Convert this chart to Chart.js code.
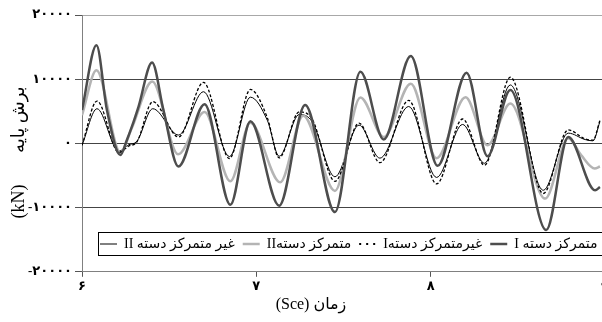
<!DOCTYPE html>
<html lang="fa">
<head>
<meta charset="UTF-8">
<title>برش پایه</title>
<script src="https://cdn.jsdelivr.net/npm/chart.js"></script>
<style>
  body { margin: 0; background: #fff; }
  #wrap { width: 602px; height: 322px; }
</style>
</head>
<body>
<div id="wrap"><canvas id="myChart"></canvas></div>
<script>
// series names as in the legend
const names = ['متمرکز دسته I', 'غیرمتمرکز دستهI', 'متمرکز دستهII', 'غیر متمرکز دسته II'];
const xTitle = '(Sce) زمان';
const yTitle = '(kN)' + '\u00a0'.repeat(6) + ' برش پایه' + '\u00a0'.repeat(4);
const xTicks = [6, 7, 8, 9];
const yTicks = [-20000, -10000, 0, 10000, 20000];

// متمرکز دسته I (dark thick)
const timeD = [6.000, 6.083, 6.143, 6.220, 6.257, 6.286, 6.324, 6.402, 6.467, 6.553, 6.703, 6.851, 6.966,
  7.131, 7.280, 7.451, 7.597, 7.731, 7.886, 8.040, 8.206, 8.326, 8.457, 8.663, 8.789, 8.943, 8.971];
const shearD = [5200, 15300, 5200, -1800, 500, 2600, 5700, 12600, 5200, -3600, 6100, -9550, 3450,
  -9700, 6000, -10700, 11150, 600, 13600, -3500, 11000, -2000, 8300, -13500, 1000, -7300, -6800];

// غیرمتمرکز دستهI (dotted)
const timeP = [6.000, 6.086, 6.211, 6.269, 6.314, 6.406, 6.554, 6.697, 6.846, 6.966, 7.063, 7.131, 7.246,
  7.320, 7.451, 7.589, 7.709, 7.874, 8.034, 8.183, 8.309, 8.457, 8.646, 8.789, 8.886, 8.931, 8.971];
const shearP = [-300, 6600, -1400, -400, 200, 6500, 1000, 9500, -2350, 8400, 4000, -2250, 4900,
  3800, -5900, 3150, -3000, 6700, -6300, 3800, -3400, 10300, -7800, 2100, 700, 500, 3600];

// متمرکز دستهII (light grey)
const timeL = [6.000, 6.083, 6.220, 6.286, 6.403, 6.551, 6.703, 6.851, 6.966, 7.137, 7.269, 7.451,
  7.597, 7.731, 7.886, 8.034, 8.200, 8.326, 8.457, 8.657, 8.789, 8.863, 8.941, 8.971];
const shearL = [4400, 11400, -1400, 2400, 9650, -1700, 4900, -5900, 3200, -6050, 4300, -7400,
  7150, 1000, 9300, -2300, 7200, -300, 6200, -8600, 800, -1830, -3900, -3600];

// غیر متمرکز دسته II (thin black)
const timeT = [6.000, 6.086, 6.211, 6.269, 6.314, 6.406, 6.554, 6.697, 6.846, 6.966, 7.063, 7.131, 7.246,
  7.320, 7.451, 7.589, 7.709, 7.874, 8.034, 8.183, 8.309, 8.457, 8.646, 8.789, 8.886, 8.931, 8.971];
const shearT = [-300, 5400, -1200, -200, 300, 5400, 1300, 8050, -2050, 7200, 3600, -2000, 4500,
  3400, -5200, 2850, -2300, 5750, -5300, 2950, -3100, 9100, -7300, 1600, 600, 400, 3400];

const faDigits = '۰۱۲۳۴۵۶۷۸۹';
function toFa(v) {
  return String(v).replace(/\d/g, d => faDigits[d]);
}
function pts(ts, vs) {
  return ts.map((t, i) => ({ x: t, y: vs[i] }));
}

const serif = "'Times New Roman', 'Liberation Serif', 'DejaVu Sans', serif";

// the original figure is cropped: the x axis runs a few px past the right edge
const PLOT_RIGHT = 605;

// legend sits inside the plot, in its own framed box
const legendBox = {
  id: 'legendBox',
  beforeLayout(chart) {
    const i = chart.boxes.indexOf(chart.legend);
    if (i >= 0) chart.boxes.splice(i, 1);
  },
  afterLayout(chart) {
    const xs = chart.scales.x;
    xs.right = PLOT_RIGHT;
    xs.width = xs.right - xs.left;
    xs.configure();
    chart.chartArea.right = PLOT_RIGHT;
    chart.chartArea.width = PLOT_RIGHT - chart.chartArea.left;

    const lg = chart.legend;
    lg.update(900, 40, { left: 0, top: 0, right: 0, bottom: 0 });
    lg.left = 92;
    lg.right = lg.left + lg.width;
    lg.top = 229;
    lg.bottom = lg.top + lg.height;
  },
  afterDraw(chart) {
    const ctx = chart.ctx;
    ctx.save();
    ctx.strokeStyle = '#000';
    ctx.lineWidth = 1;
    ctx.strokeRect(98.5, 232.5, 520, 23);
    ctx.restore();
    chart.legend.draw();
  }
};

new Chart(document.getElementById('myChart'), {
  type: 'line',
  data: {
    datasets: [
      { label: names[0], data: pts(timeD, shearD), borderColor: '#4d4d4d', borderWidth: 2.5 },
      { label: names[1], data: pts(timeP, shearP), borderColor: '#000', borderWidth: 1.3, borderDash: [3, 2] },
      { label: names[2], data: pts(timeL, shearL), borderColor: '#b4b4b4', borderWidth: 2.5 },
      { label: names[3], data: pts(timeT, shearT), borderColor: '#000', borderWidth: 1 }
    ]
  },
  options: {
    responsive: true,
    maintainAspectRatio: false,
    animation: false,
    elements: {
      point: { radius: 0 },
      line: { cubicInterpolationMode: 'monotone', fill: false }
    },
    layout: { autoPadding: false, padding: { left: 20, right: 0, top: 15, bottom: 0 } },
    scales: {
      x: {
        type: 'linear',
        min: 6, max: 9,
        afterBuildTicks: s => { s.ticks = xTicks.map(v => ({ value: v })); },
        afterFit: s => { s.height = 20; },
        border: { color: '#808080' },
        grid: { drawOnChartArea: false, tickLength: 5, tickColor: '#555' },
        ticks: {
          callback: v => toFa(v),
          color: '#000', padding: 2, maxRotation: 0,
          font: { family: serif, size: 13, weight: 'bold' }
        }
      },
      y: {
        min: -20000, max: 20000,
        afterBuildTicks: s => { s.ticks = yTicks.map(v => ({ value: v })); },
        afterFit: s => { s.width = 62; },
        border: { color: '#808080' },
        grid: {
          color: c => c.tick.value === 20000 ? '#a8a8a8' : (c.tick.value === -20000 ? '#808080' : '#444'),
          tickLength: 7, tickColor: '#555'
        },
        ticks: {
          callback: v => toFa(v),
          color: '#000', padding: 3,
          font: { family: serif, size: 13, weight: 'bold' }
        },
        title: {
          display: true, text: yTitle, color: '#000',
          padding: { top: -12, bottom: 0 },
          font: { family: serif, size: 18 }
        }
      }
    },
    plugins: {
      legend: {
        position: 'bottom',
        align: 'start',
        reverse: true,
        textDirection: 'rtl',
        labels: {
          usePointStyle: true,
          pointStyle: 'line',
          pointStyleWidth: 17,
          padding: 8,
          color: '#000',
          font: { family: serif, size: 14 },
          generateLabels(chart) {
            const items = Chart.defaults.plugins.legend.labels.generateLabels(chart);
            items.forEach(it => {
              if (it.datasetIndex === 1) { it.lineDash = [2, 5]; it.lineWidth = 2; }
            });
            return items;
          }
        }
      },
      title: {
        display: true, position: 'bottom', text: xTitle, color: '#000',
        padding: { top: 3, bottom: 8 },
        font: { family: serif, size: 16, weight: 'normal' }
      },
      tooltip: { enabled: false }
    }
  },
  plugins: [legendBox]
});
</script>
</body>
</html>
